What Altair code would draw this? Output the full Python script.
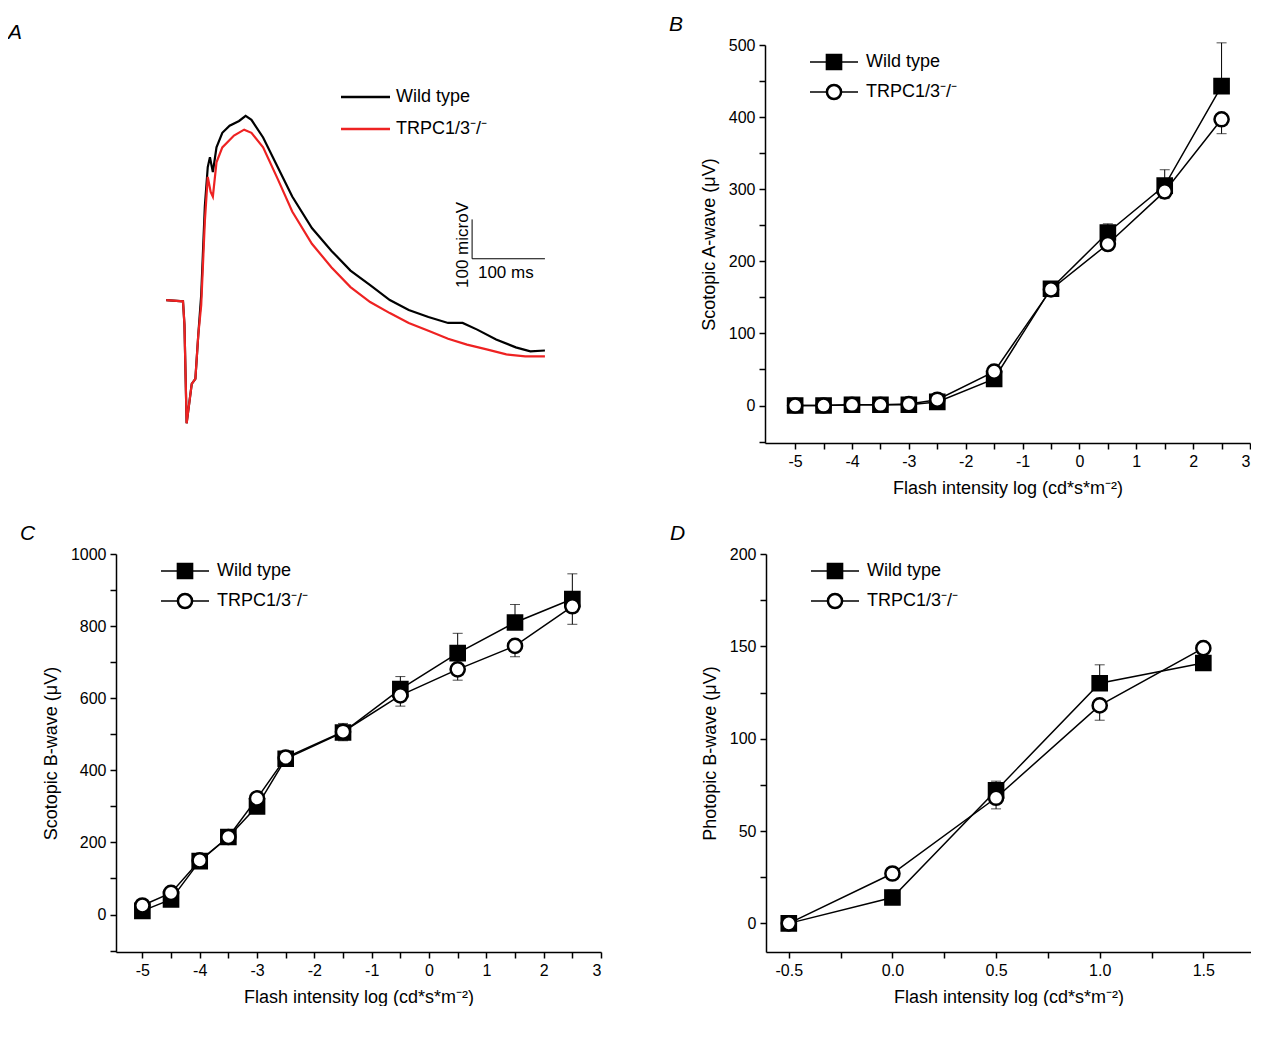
import altair as alt
import pandas as pd

FONT = "Liberation Sans"

# Panel A: ERG traces (ms, microV)
a_t_wt = [0, 23, 25, 28, 35, 40, 44, 48, 53, 57, 60, 64, 69, 77, 87, 100, 109, 117, 133, 153, 173,
          200, 227, 253, 280, 307, 333, 360, 387, 407, 427, 453, 480, 500, 520]
a_v_wt = [0, -3, -63, -313, -213, -200, -88, 13, 238, 338, 363, 325, 388, 425, 443, 455, 468, 458,
          413, 338, 263, 183, 125, 75, 38, 0, -25, -43, -58, -58, -75, -100, -120, -130, -128]
a_t_ko = [0, 23, 25, 28, 35, 40, 44, 48, 53, 57, 61, 64, 69, 77, 93, 107, 117, 133, 153, 173,
          200, 227, 253, 280, 307, 333, 360, 387, 413, 440, 467, 493, 520]
a_v_ko = [0, -3, -63, -313, -213, -200, -88, -13, 200, 313, 275, 263, 350, 388, 418, 433, 425,
          388, 308, 225, 143, 83, 33, -5, -33, -58, -78, -98, -113, -125, -138, -143, -143]
bar_t = [420, 420, 520]
bar_v = [205, 105, 105]

# Panels B-D
bc_x = [-5, -4.5, -4, -3.5, -3, -2.5, -1.5, -0.5, 0.5, 1.5, 2.5]
b_wt = [0, 0, 1, 1, 1, 5, 37, 162, 240, 305, 443]
b_wt_err = [2, 2, 3, 3, 3, 4, 5, 5, 12, 22, 60]
b_ko = [0, 0, 1, 1, 2, 8, 47, 161, 224, 297, 397]
b_ko_err = [2, 2, 3, 3, 3, 4, 6, 5, 8, 10, 20]
c_wt = [10, 42, 148, 215, 300, 432, 505, 625, 725, 810, 875]
c_wt_err = [10, 10, 15, 15, 15, 15, 25, 35, 55, 50, 70]
c_ko = [25, 60, 150, 215, 322, 435, 507, 608, 680, 745, 855]
c_ko_err = [15, 15, 20, 15, 15, 15, 25, 30, 30, 30, 50]
d_x = [-0.5, 0, 0.5, 1, 1.5]
d_wt = [0, 14, 72, 130, 141]
d_wt_err = [2, 4, 5, 10, 9]
d_ko = [0, 27, 68, 118, 149]
d_ko_err = [2, 3, 6, 8, 8]

W, H = 485, 398
X_TITLE = "Flash intensity log (cd*s*m⁻²)"
KO = "TRPC1/3⁻/⁻"


def letter(s, dx):
    return alt.TitleParams(s, anchor="start", frame="group", dx=dx, offset=2, fontSize=21,
                           fontStyle="italic", fontWeight="normal", font=FONT, color="black")


def legend_layers(x0, y0):
    rows = []
    d0 = pd.DataFrame({"a": [0]})
    for i, (lab, shape, fill) in enumerate([("Wild type", "square", "black"), (KO, "circle", "white")]):
        y = y0 + 30 * i
        rows.append(alt.Chart(d0).mark_rule(color="black", strokeWidth=1.5)
                    .encode(x=alt.value(x0), x2=alt.value(x0 + 48), y=alt.value(y)))
        rows.append(alt.Chart(d0).mark_point(
            shape=shape, filled=True, fill=fill, stroke="black", strokeWidth=2.5, size=200, opacity=1)
            .encode(x=alt.value(x0 + 24), y=alt.value(y)))
        rows.append(alt.Chart(d0).mark_text(
            text=lab, align="left", baseline="middle", fontSize=18, font=FONT)
            .encode(x=alt.value(x0 + 56), y=alt.value(y)))
    return rows


def panel(xs, wt, wt_err, ko, ko_err, xdom, ydom, xticks, yticks, ylabstep, ytitle, title_letter, xstep, xfmt):
    rows = []
    for g, ys, es, sign in [("wt", wt, wt_err, 1), ("ko", ko, ko_err, -1)]:
        for x, y, e in zip(xs, ys, es):
            rows.append({"g": g, "x": x, "y": y, "e": y + sign * e})
    df = pd.DataFrame(rows)
    xs_ = alt.Scale(domain=xdom, nice=False, zero=False)
    ys_ = alt.Scale(domain=ydom, nice=False, zero=False)
    xa = alt.Axis(values=xticks, title=X_TITLE, labelOverlap=False,
                  labelExpr=f"abs(datum.value / {xstep} - round(datum.value / {xstep})) < 0.001 ? "
                            f"replace(format(datum.value, '{xfmt}'), '\u2212', '-') : ''")
    ya = alt.Axis(values=yticks, title=ytitle, labelOverlap=False,
                  labelExpr=f"datum.value % {ylabstep} == 0 && datum.value >= 0 ? toString(datum.value) : ''")
    X = alt.X("x:Q", scale=xs_, axis=xa)
    Y = alt.Y("y:Q", scale=ys_, axis=ya)
    YE = alt.Y("e:Q", scale=ys_, axis=ya)
    base = alt.Chart(df)
    err = base.mark_rule(color="black", strokeWidth=1).encode(x=X, y=Y, y2="e:Q", detail="g:N")
    cap = base.mark_tick(color="black", size=10, thickness=1, orient="horizontal").encode(x=X, y=YE)
    layers = [err, cap]
    for g, shape, fill in [("wt", "square", "black"), ("ko", "circle", "white")]:
        sub = base.transform_filter(alt.datum.g == g)
        layers.append(sub.mark_line(color="black", strokeWidth=1.5).encode(x=X, y=Y))
        layers.append(sub.mark_point(shape=shape, filled=True, fill=fill, stroke="black", strokeWidth=2.5,
                                     size=200, opacity=1).encode(x=X, y=Y))
    layers += legend_layers(45, 17)
    return alt.layer(*layers).properties(width=W, height=H, title=letter(title_letter, -96))


# Panel A
dfa = pd.concat([
    pd.DataFrame({"t": a_t_wt, "v": a_v_wt, "g": "Wild type"}),
    pd.DataFrame({"t": a_t_ko, "v": a_v_ko, "g": KO}),
])
ta = alt.Scale(domain=[-69, 597], nice=False)
va = alt.Scale(domain=[-363, 648], nice=False)
TX = alt.X("t:Q", scale=ta, axis=None)
TY = alt.Y("v:Q", scale=va, axis=None)
trace = alt.Chart(dfa).mark_line(strokeWidth=2.2).encode(
    x=TX, y=TY,
    color=alt.Color("g:N", scale=alt.Scale(domain=["Wild type", KO], range=["black", "#ee2222"]), legend=None),
    order=alt.Order("g:N", sort="descending"))
bar = alt.Chart(pd.DataFrame({"t": bar_t, "v": bar_v, "i": [0, 1, 2]})).mark_line(
    color="black", strokeWidth=1).encode(x=TX, y=TY, order="i:Q")
bar_txt1 = alt.Chart(pd.DataFrame({"t": [428], "v": [70]})).mark_text(
    text="100 ms", align="left", fontSize=17, font=FONT).encode(x=TX, y=TY)
bar_txt2 = alt.Chart(pd.DataFrame({"t": [408], "v": [140]})).mark_text(
    text="100 microV", angle=270, fontSize=17, font=FONT).encode(x=TX, y=TY)
leg_a = []
for i, (lab, col) in enumerate([("Wild type", "black"), (KO, "#ee2222")]):
    y = 52 + 32 * i
    d0 = pd.DataFrame({"a": [0]})
    leg_a.append(alt.Chart(d0).mark_rule(color=col, strokeWidth=2.5).encode(
        x=alt.value(225), x2=alt.value(274), y=alt.value(y)))
    leg_a.append(alt.Chart(d0).mark_text(text=lab, align="left", baseline="middle", fontSize=18, font=FONT)
                 .encode(x=alt.value(280), y=alt.value(y)))
pa = alt.layer(trace, bar, bar_txt1, bar_txt2, *leg_a).properties(width=W, height=H, title=letter("A", -108))

xt = [v / 2 for v in range(-10, 7)]
pb = panel(bc_x, b_wt, b_wt_err, b_ko, b_ko_err, [-5.53, 3], [-52, 500], xt,
           list(range(-50, 501, 50)), 100, "Scotopic A-wave (μV)", "B", 1, "d")
pc = panel(bc_x, c_wt, c_wt_err, c_ko, c_ko_err, [-5.46, 3], [-104, 1000], xt,
           list(range(-100, 1001, 100)), 200, "Scotopic B-wave (μV)", "C", 1, "d")
pd_ = panel(d_x, d_wt, d_wt_err, d_ko, d_ko_err, [-0.61, 1.73], [-15.5, 200],
            [-0.5, -0.25, 0, 0.25, 0.5, 0.75, 1, 1.25, 1.5],
            list(range(-25, 201, 25)), 50, "Photopic B-wave (μV)", "D", 0.5, ".1f")

chart = alt.vconcat(
    alt.hconcat(pa, pb, spacing=68),
    alt.hconcat(pc, pd_, spacing=68),
    spacing=26,
).configure_view(stroke=None).configure_axis(
    labelFont=FONT, titleFont=FONT, labelFontSize=16, titleFontSize=18, titleFontWeight="normal",
    domainColor="black", domainWidth=1.5, tickColor="black", tickWidth=1.5, tickSize=6,
    labelColor="black", titleColor="black", grid=False, labelPadding=4, titlePadding=10,
).properties(background="white", padding={"left": 0, "right": 0, "top": 6, "bottom": 0})

chart.save("out.html", embed_options={"renderer": "svg", "actions": False})
